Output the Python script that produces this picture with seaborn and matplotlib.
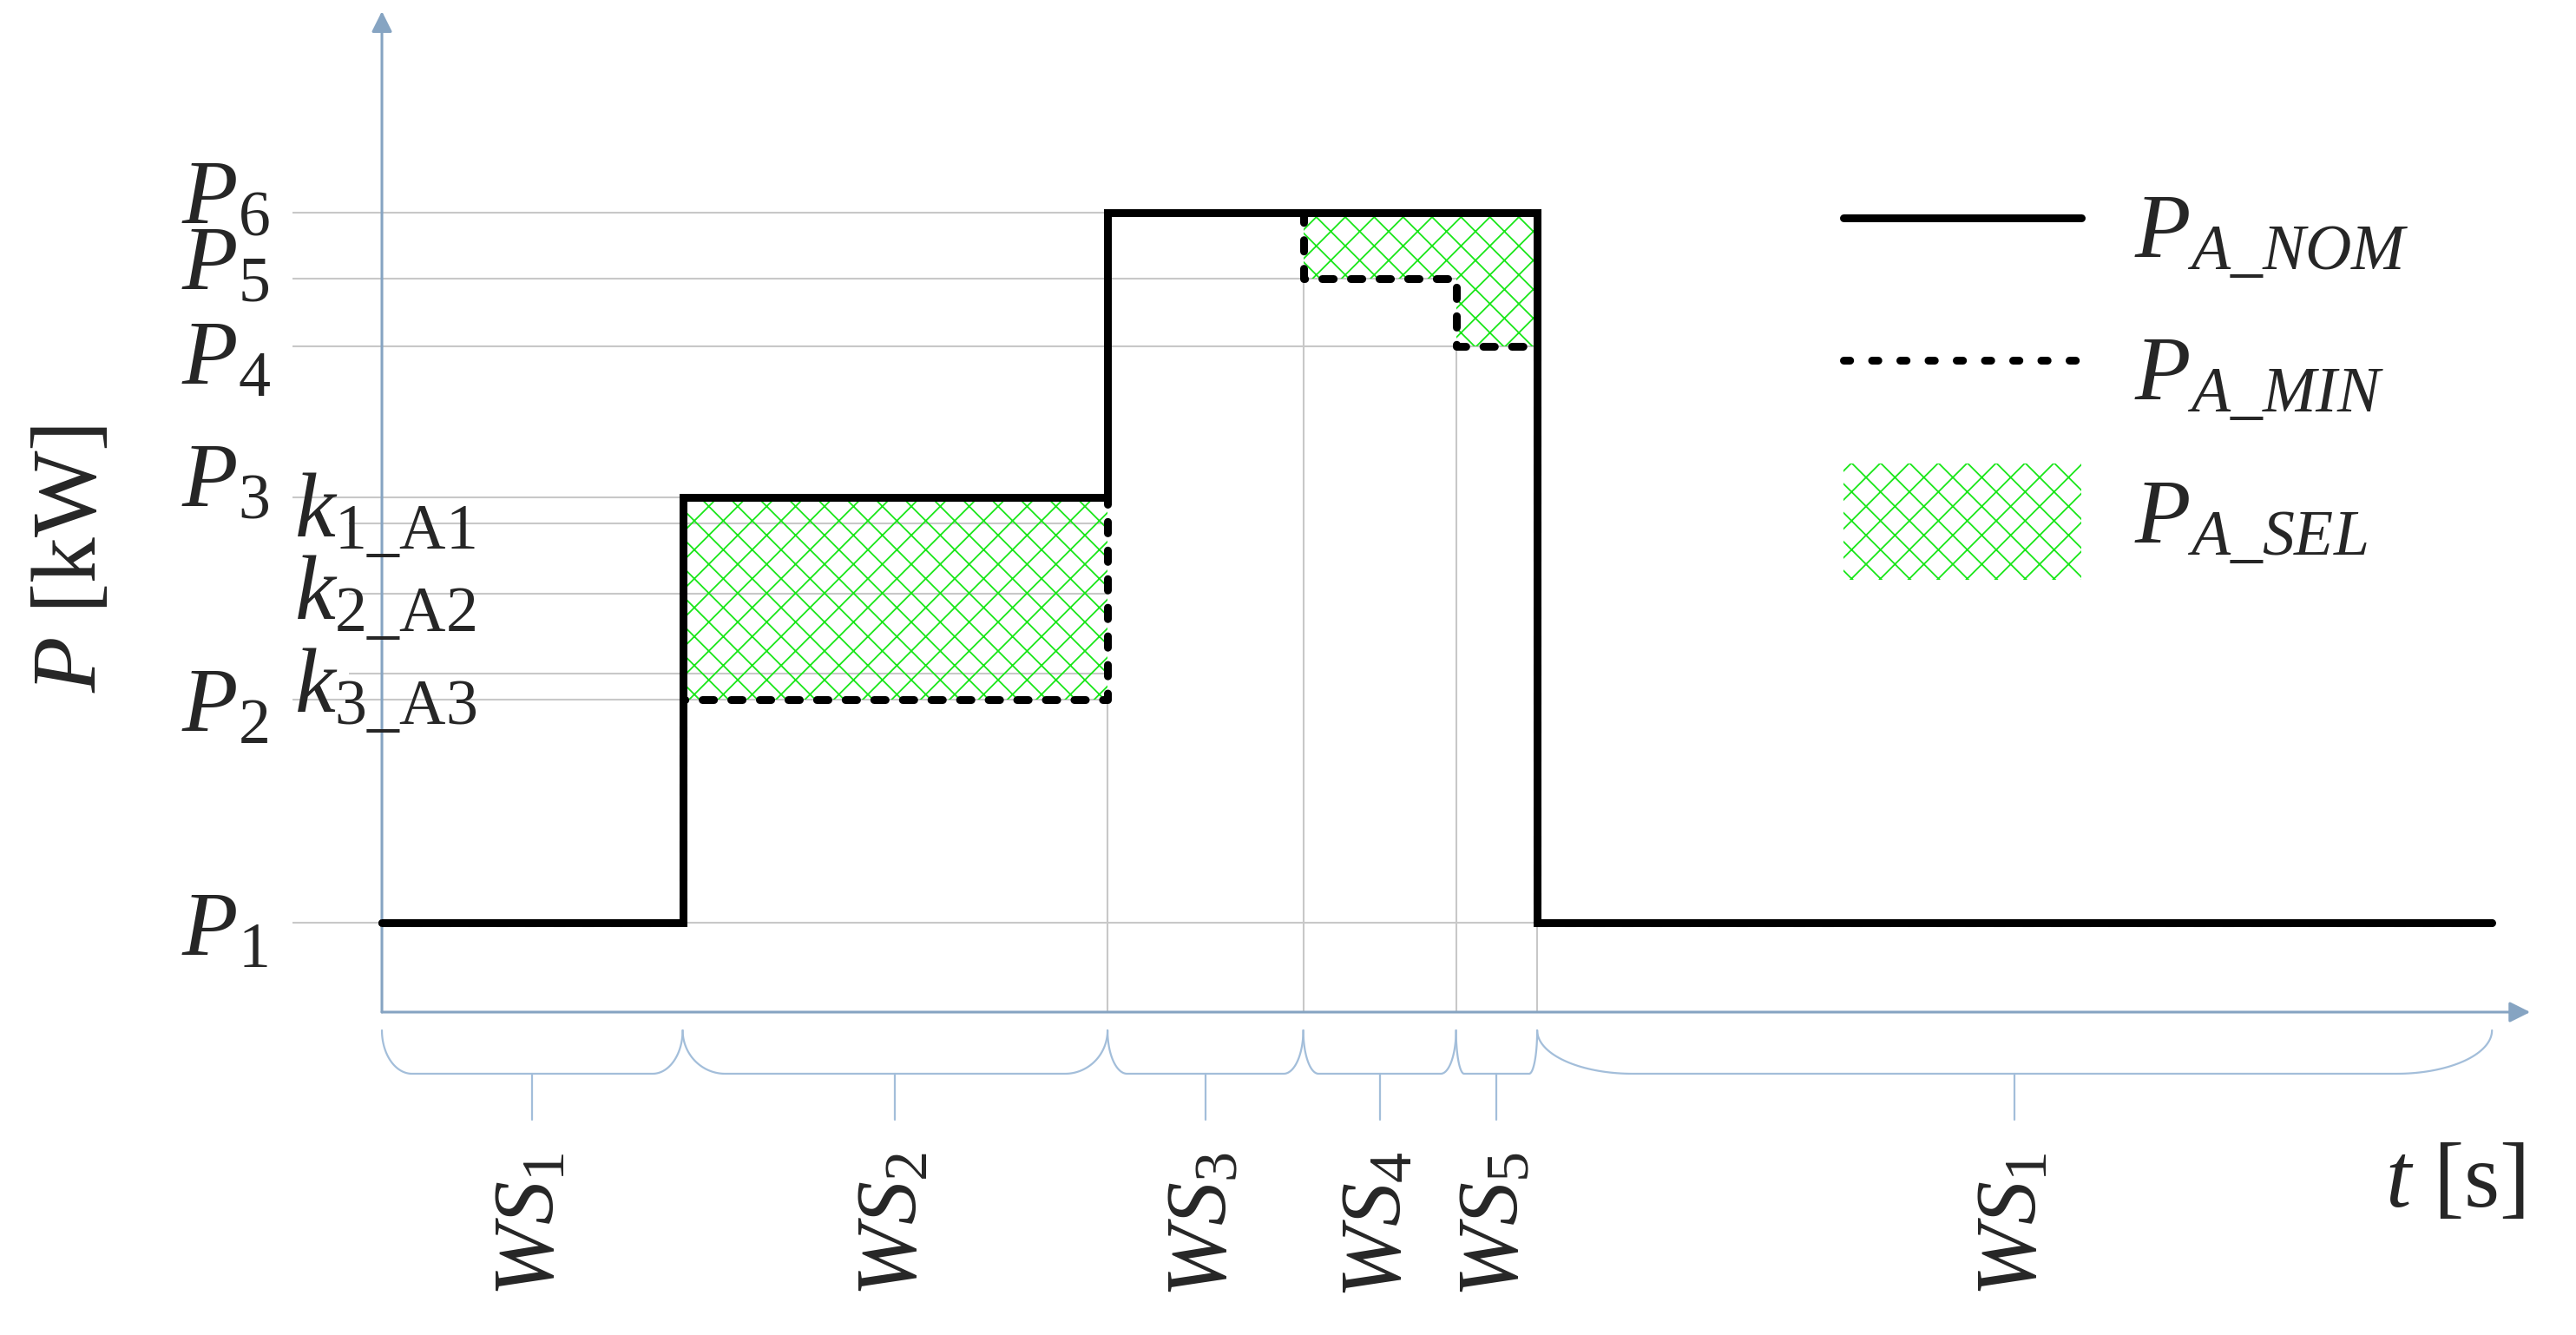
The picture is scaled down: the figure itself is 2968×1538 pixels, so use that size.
import numpy as np
import matplotlib
matplotlib.use('Agg')
import matplotlib.pyplot as plt
import seaborn as sns
from matplotlib.lines import Line2D
from matplotlib.patches import Patch, Rectangle
from matplotlib.legend_handler import HandlerPatch

# step diagram: time breakpoints [s] and power levels [kW]
t_break = [0, 3.15, 7.6, 9.65, 11.25, 12.1, 22.1]
p_levels = [10.3, 36.0, 59.3, 76.7, 84.5, 92.1]          # P1..P6
p_names = ['$P_1$', '$P_2$', '$P_3$', '$P_4$', '$P_5$', '$P_6$']
k_levels = [56.3, 48.2, 39.0]
k_names = [r'$k_{1\_\mathrm{A1}}$', r'$k_{2\_\mathrm{A2}}$', r'$k_{3\_\mathrm{A3}}$']
ws_names = ['$WS_1$', '$WS_2$', '$WS_3$', '$WS_4$', '$WS_5$', '$WS_1$']
legend_names = [r'$P_{A\_NOM}$', r'$P_{A\_MIN}$', r'$P_{A\_SEL}$']

P1, P2, P3, P4, P5, P6 = p_levels
p_nom = [P1, P3, P6, P6, P6, P1, P1]
p_min = [P1, P2, P6, P5, P4, P1, P1]

# label baseline shifts (layout only)
p_label_dy = [-3.7, -3.6, -1.1, -4.3, -1.3, -1.3]
k_label_dy = [-1.5, -2.9, -4.4]

sns.set_theme(style='white')
plt.rcParams['font.family'] = ['Liberation Serif', 'DejaVu Serif']
plt.rcParams['mathtext.fontset'] = 'custom'
plt.rcParams['mathtext.rm'] = 'Liberation Serif'
plt.rcParams['mathtext.it'] = 'Liberation Serif:italic'
plt.rcParams['mathtext.bf'] = 'Liberation Serif:bold'
plt.rcParams['hatch.linewidth'] = 1.3

green = '#19E619'
grid_c = '#C8C8C8'
axis_c = '#86A4C2'
brace_c = '#A3BEDA'
fs = 76

fig = plt.figure(figsize=(29.68, 15.38), dpi=100)
ax = fig.add_axes([0, 0, 1, 1])
ax.set_xlim(-4.0, 22.98)
ax.set_ylim(-37.2, 116.6)
ax.set_axis_off()

# thin guide lines
t = np.array(t_break)
for lvl in p_levels:
    idx = max(i for i in range(len(t) - 1) if p_nom[i] == lvl or p_min[i] == lvl)
    ax.hlines(lvl, -0.94, t[idx + 1] if idx + 1 < len(t) - 1 else t[-1], color=grid_c, lw=1.5, zorder=1)
for lvl in k_levels:
    ax.hlines(lvl, -0.35, t[2], color=grid_c, lw=1.5, zorder=1)
for i in range(2, 6):
    ax.vlines(t[i], 0, min(p_min[i - 1], p_min[i]), color=grid_c, lw=1.5, zorder=1)

# selected area
ax.fill_between(t, p_min, p_nom, step='post', facecolor='none', edgecolor=green,
                hatch='x', linewidth=0, zorder=2)

# power curves
sns.lineplot(x=t_break, y=p_min, drawstyle='steps-post', color='black', lw=6.5,
             linestyle=(0, (1.45, 2.2)), dash_capstyle='round', estimator=None,
             ax=ax, legend=False, zorder=3)
sns.lineplot(x=t_break, y=p_nom, drawstyle='steps-post', color='black', lw=6.5,
             solid_capstyle='round', solid_joinstyle='miter', estimator=None,
             ax=ax, legend=False, zorder=4)

# axes with arrows
arrow = dict(arrowstyle='-|>', color=axis_c, lw=2.2, mutation_scale=36, shrinkA=0, shrinkB=0)
ax.annotate('', xy=(22.5, 0), xytext=(0, 0), arrowprops=arrow)
ax.annotate('', xy=(0, 115.3), xytext=(0, 0), arrowprops=arrow)

# level labels
for lvl, name, dy in zip(p_levels, p_names, p_label_dy):
    ax.text(-2.1, lvl + dy, name, fontsize=fs, ha='left', va='baseline')
for lvl, name, dy in zip(k_levels, k_names, k_label_dy):
    ax.text(-0.92, lvl + dy, name, fontsize=fs, ha='left', va='baseline')

ax.text(-3.23, 52.2, '$P$ [kW]', fontsize=fs, rotation=90, ha='center', va='center')
ax.text(22.45, -19.9, '$t$ [s]', fontsize=fs, ha='right', va='center')

# braces for working states
y_tip, y_base, y_tick = -2.1, -7.1, -12.4
th = np.linspace(0, np.pi / 2, 40)
for a, b, name in zip(t[:-1], t[1:], ws_names):
    r = 0.1 * (b - a)
    h = y_tip - y_base
    lx = a + r - r * np.cos(th)
    ly = y_tip - h * np.sin(th)
    rx = b - r + r * np.cos(th[::-1])
    ry = y_tip - h * np.sin(th[::-1])
    ax.plot(np.r_[lx, rx], np.r_[ly, ry], color=brace_c, lw=1.6)
    c = (a + b) / 2
    ax.plot([c, c], [y_base, y_tick], color=brace_c, lw=1.6)
    ax.text(c, -24.5, name, fontsize=72, rotation=90, ha='center', va='center')


# legend (taller hatched swatch, sitting a bit lower)
def tall_box(legend, orig_handle, xdescent, ydescent, width, height, fontsize):
    extra = 0.1 * height
    shift = 0.1 * height
    return Rectangle((-xdescent, -ydescent - extra - shift), width, height + 2 * extra)


handles = [Line2D([], [], color='black', lw=6.5, solid_capstyle='round'),
           Line2D([], [], color='black', lw=6.5, linestyle=(0, (0.8, 2.8)), dash_capstyle='round'),
           Patch(facecolor='none', edgecolor=green, hatch='x', lw=0)]
ax.legend(handles, legend_names, loc='upper left', bbox_to_anchor=(0.7156, 0.8667),
          frameon=False, fontsize=fs, handlelength=2.6, handleheight=1.25,
          handletextpad=0.57, labelspacing=0.44, borderpad=0, borderaxespad=0,
          handler_map={Patch: HandlerPatch(patch_func=tall_box)})

plt.savefig('out.png', dpi=100)
